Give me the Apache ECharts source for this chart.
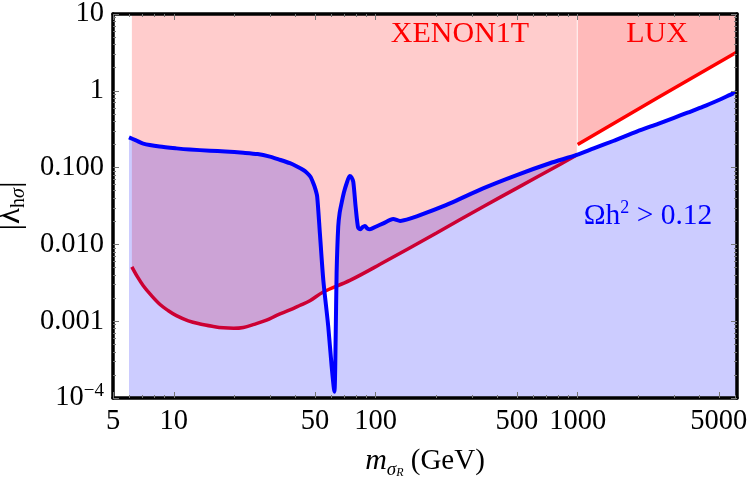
<!DOCTYPE html>
<html><head><meta charset="utf-8">
<script src="https://cdn.jsdelivr.net/npm/echarts@6/dist/echarts.min.js"></script>
<style>html,body{margin:0;padding:0;background:#fff}#c{width:750px;height:478px}</style>
</head><body><div id="c"></div>
<script>
// Relic-density boundary (Omega h^2 = 0.12)
const blueMass = [6.0, 6.5, 7.06, 8.5, 10.3, 12, 15.1, 18, 22.1, 26, 29.9, 33, 37.6, 40.5, 43.8, 45.5, 47.5, 49.1, 50.3, 51.3, 52.9, 55.0, 58.2, 60.5, 62.4, 63.3, 64.0, 65.2, 66.3, 67.7, 69.5, 71.8, 74.3, 75.8, 77.4, 79.5, 81.8, 84, 86, 88.4, 91, 93.6, 100, 109, 122, 132, 147.6, 178.6, 233, 340, 499, 728, 988, 1200, 1500, 1960, 2500, 3000, 3500, 4180, 5000, 5890, 6150];
const blueLambda = [0.248, 0.226, 0.205, 0.188, 0.178, 0.172, 0.166, 0.162, 0.156, 0.150, 0.139, 0.128, 0.114, 0.104, 0.093, 0.086, 0.076, 0.0625, 0.052, 0.0418, 0.0139, 0.00343, 0.00085, 0.000257, 0.000121, 0.00057, 0.0042, 0.017, 0.026, 0.0343, 0.047, 0.0625, 0.078, 0.075, 0.0655, 0.031, 0.0165, 0.0158, 0.0168, 0.0174, 0.0160, 0.0157, 0.0170, 0.0188, 0.0214, 0.0202, 0.0216, 0.0259, 0.0343, 0.0537, 0.080, 0.114, 0.146, 0.178, 0.222, 0.294, 0.372, 0.445, 0.52, 0.621, 0.76, 0.927, 0.97];
// XENON1T bound
const xenonMass = [6.2, 6.6, 7.06, 7.7, 8.55, 9.4, 10.3, 11.8, 13.5, 15.5, 17.6, 19.8, 22.1, 25, 28.8, 32.5, 37.6, 42, 47.2, 55, 74.5, 105, 200, 340, 500, 817, 990];
const xenonLambda = [0.0051, 0.0038, 0.0029, 0.0022, 0.00165, 0.00137, 0.00118, 0.00101, 0.00092, 0.00086, 0.00082, 0.00081, 0.00083, 0.00091, 0.00103, 0.0012, 0.0014, 0.0016, 0.00185, 0.0024, 0.0034, 0.0055, 0.0141, 0.031, 0.054, 0.11, 0.146];
// LUX bound
const luxMass = [1000, 2500, 6150];
const luxLambda = [0.2, 0.82, 3.2];
// axes
const xMin = 5, xMax = 6150, yMin = 0.0001, yMax = 10;
const xMajorTicks = [5, 10, 50, 100, 500, 1000, 5000];
const xMinorTicks = [6, 7, 8, 9, 20, 30, 40, 60, 70, 80, 90, 200, 300, 400, 600, 700, 800, 900, 2000, 3000, 4000, 6000];
const yMajorTicks = [0.0001, 0.001, 0.01, 0.1, 1, 10];
const yTickLabels = ['{b|10}{s|\u22124}', '0.001', '0.010', '0.100', '1', '10'];
const yMinorTicks = [];
[0.0001, 0.001, 0.01, 0.1, 1].forEach(d => { for (let k = 2; k <= 9; k++) yMinorTicks.push(+(d * k).toPrecision(3)); });

const FONT = 'Liberation Serif';
const LBL = 28.5;
const zip = (a, b) => a.map((v, i) => [v, b[i]]);

function xAxisDef(pos, ticks, len, showLabel) {
  return {
    type: 'log', logBase: 10, min: xMin, max: xMax, position: pos, z: 10,
    axisLine: { show: len > 4, onZero: false, lineStyle: { color: '#000', width: 3.5 } },
    axisTick: { show: true, inside: true, length: len, customValues: ticks, lineStyle: { color: '#777', width: 1 } },
    axisLabel: showLabel ? { show: true, customValues: xMajorTicks, formatter: v => String(Math.round(v)), fontFamily: FONT, fontSize: LBL, color: '#000', margin: 9 } : { show: false },
    splitLine: { show: false }, minorTick: { show: false }
  };
}
function yAxisDef(pos, ticks, len, showLabel) {
  return {
    type: 'log', logBase: 10, min: yMin, max: yMax, position: pos, z: 10,
    axisLine: { show: len > 4, onZero: false, lineStyle: { color: '#000', width: 3.5 } },
    axisTick: { show: true, inside: true, length: len, customValues: ticks, lineStyle: { color: '#777', width: 1 } },
    axisLabel: showLabel ? {
      show: true, customValues: yMajorTicks, fontFamily: FONT, fontSize: LBL, color: '#000', margin: 9,
      formatter: v => { let best = 0; yMajorTicks.forEach((t, i) => { if (Math.abs(Math.log10(t) - Math.log10(v)) < Math.abs(Math.log10(yMajorTicks[best]) - Math.log10(v))) best = i; }); return yTickLabels[best]; },
      rich: { b: { fontFamily: FONT, fontSize: LBL, lineHeight: 32, color: '#000' }, s: { fontFamily: FONT, fontSize: 19, lineHeight: 19, verticalAlign: 'top', color: '#000' } }
    } : { show: false },
    splitLine: { show: false }, minorTick: { show: false }
  };
}

const xA = [xAxisDef('bottom', xMajorTicks, 6, true), xAxisDef('bottom', xMinorTicks, 3, false), xAxisDef('top', xMajorTicks, 6, false), xAxisDef('top', xMinorTicks, 3, false)];
xA[0].name = '{m|m}{s|σ}{r|R}{t| (GeV)}';
xA[0].nameLocation = 'middle';
xA[0].nameGap = 45;
xA[0].nameTextStyle = { fontFamily: FONT, fontSize: 29, color: '#000', rich: {
  m: { fontFamily: FONT, fontSize: 30, fontStyle: 'italic', lineHeight: 36, color: '#000' },
  s: { fontFamily: FONT, fontSize: 19, fontStyle: 'italic', lineHeight: 22, verticalAlign: 'bottom', color: '#000' },
  r: { fontFamily: FONT, fontSize: 12, fontStyle: 'italic', lineHeight: 12, verticalAlign: 'bottom', color: '#000' },
  t: { fontFamily: FONT, fontSize: 29, lineHeight: 36, color: '#000' } } };
const yA = [yAxisDef('left', yMajorTicks, 6, true), yAxisDef('left', yMinorTicks, 3, false), yAxisDef('right', yMajorTicks, 6, false), yAxisDef('right', yMinorTicks, 3, false)];
yA[0].name = '{l|\u007Cλ}{s|h}{si|σ}{l|\u007C}';
yA[0].nameLocation = 'middle';
yA[0].nameGap = 84;
yA[0].nameRotate = 90;
yA[0].nameTextStyle = { fontFamily: FONT, fontSize: 32, color: '#000', rich: {
  l: { fontFamily: FONT, fontSize: 33, lineHeight: 38, color: '#000' },
  s: { fontFamily: FONT, fontSize: 20, lineHeight: 21, verticalAlign: 'bottom', color: '#000' },
  si: { fontFamily: FONT, fontSize: 20, fontStyle: 'italic', lineHeight: 21, verticalAlign: 'bottom', color: '#000' } } };

const chart = echarts.init(document.getElementById('c'), null, { renderer: 'canvas' });
chart.setOption({
  animation: false,
  backgroundColor: '#fff',
  grid: { left: 113, right: 13, top: 14, bottom: 80, containLabel: false, outerBoundsMode: 'none' },
  xAxis: xA,
  yAxis: yA,
  series: [
    { name: 'XENON1T', type: 'line', data: zip(xenonMass, xenonLambda), symbol: 'none', smooth: 0.35, z: 2,
      lineStyle: { color: '#ff0000', width: 3.5 }, areaStyle: { origin: 'end', color: 'rgba(255,0,0,0.2)', opacity: 1 } },
    { name: 'LUX', type: 'line', data: zip(luxMass, luxLambda), symbol: 'none', z: 2,
      lineStyle: { color: '#ff0000', width: 3.5 }, areaStyle: { origin: 'end', color: 'rgba(255,0,0,0.27)', opacity: 1 } },
    { name: 'relic', type: 'line', data: zip(blueMass, blueLambda), symbol: 'none', smooth: 0.25, z: 3,
      lineStyle: { color: '#0000ff', width: 4, join: 'round' }, areaStyle: { origin: 'start', color: 'rgba(0,0,255,0.2)', opacity: 1 } }
  ],
  graphic: [
    { type: 'text', z: 20, style: { x: 460, y: 34, text: 'XENON1T', fill: '#ff0000', font: '30px "Liberation Serif"', align: 'center', verticalAlign: 'middle' } },
    { type: 'text', z: 20, style: { x: 657, y: 34, text: 'LUX', fill: '#ff0000', font: '30px "Liberation Serif"', align: 'center', verticalAlign: 'middle' } },
    { type: 'text', z: 20, style: { x: 648, y: 216, text: '{a|Ωh}{s|2}{a| > 0.12}', align: 'center', verticalAlign: 'middle',
      rich: { a: { fontFamily: FONT, fontSize: 29.5, lineHeight: 34, fill: '#0000ff' }, s: { fontFamily: FONT, fontSize: 18, lineHeight: 18, verticalAlign: 'top', fill: '#0000ff' } } } }
  ]
});
</script></body></html>
